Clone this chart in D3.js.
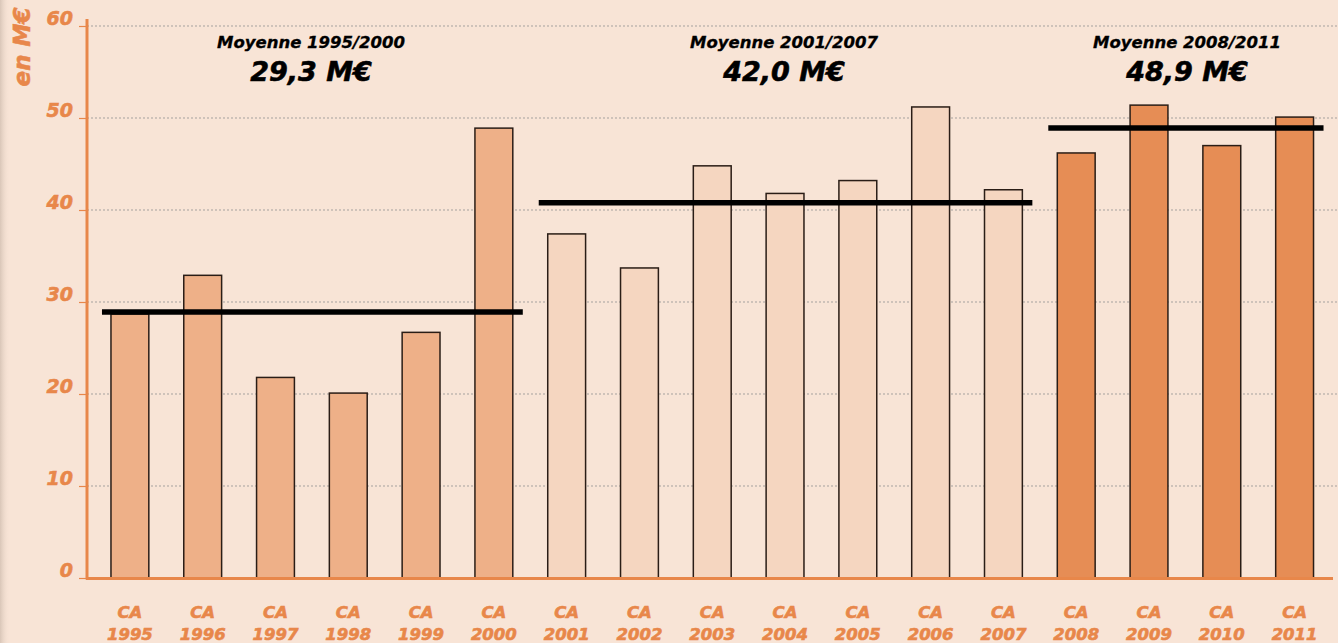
<!DOCTYPE html>
<html>
<head>
<meta charset="utf-8">
<script src="https://cdn.jsdelivr.net/npm/d3@7"></script>
<style>
  html, body { margin: 0; padding: 0; background: #f8e4d6; }
  svg { display: block; font-family: "DejaVu Sans", sans-serif; }
</style>
</head>
<body>
<div class="panel"></div>
<script>
const years = ["1995","1996","1997","1998","1999","2000","2001","2002","2003","2004","2005","2006","2007","2008","2009","2010","2011"];
const values = [28.7, 32.9, 21.8, 20.1, 26.7, 48.9, 37.4, 33.7, 44.8, 41.8, 43.2, 51.2, 42.2, 46.2, 51.4, 47.0, 50.1];
const periods = ["1995/2000", "2001/2007", "2008/2011"];
const periodStart = ["1995", "2001", "2008"];
const periodEnd = ["2000", "2007", "2011"];
const periodLabels = ["29,3 M€", "42,0 M€", "48,9 M€"];
const periodLines = [28.9, 40.8, 48.9];
const yTicks = [0, 10, 20, 30, 40, 50, 60];

const width = 1338;
const height = 643;

const svg = d3.select(".panel")
    .append("svg")
    .attr("width", width)
    .attr("height", height);

svg.append("rect")
   .attr("width", width)
   .attr("height", height)
   .attr("fill", "#f8e4d6");

// faint shadow on the left edge
const grad = svg.append("defs").append("linearGradient").attr("id", "edge");
grad.append("stop").attr("offset", "0%").attr("stop-color", "#d9c6b8");
grad.append("stop").attr("offset", "100%").attr("stop-color", "#f8e4d6").attr("stop-opacity", 0);
svg.append("rect").attr("width", 10).attr("height", height).attr("fill", "url(#edge)");

const x = d3.scaleBand()
    .domain(years)
    .range([93.5, 1331])
    .paddingInner(0.48)
    .paddingOuter(0.24);

const y = d3.scaleLinear()
    .domain([0, 60])
    .range([578, 26]);

const orange = "#e8874a";

function periodOf(i){
  if(i < 6) return 0;
  else if(i < 13) return 1;
  else return 2;
}
const fills = ["#eeb088", "#f5d6c0", "#e68d55"];

// grid
svg.append("g")
   .selectAll("line")
   .data(yTicks.filter(d => d > 0))
   .enter()
   .append("line")
   .attr("x1", 87)
   .attr("x2", width)
   .attr("y1", d => y(d))
   .attr("y2", d => y(d))
   .attr("stroke", "#a5a19e")
   .attr("stroke-width", 1)
   .attr("stroke-dasharray", "2,2");

// bars
svg.append("g")
   .selectAll("rect")
   .data(values)
   .enter()
   .append("rect")
   .attr("x", (d, i) => x(years[i]))
   .attr("y", d => y(d))
   .attr("width", x.bandwidth())
   .attr("height", d => y(0) - y(d))
   .attr("fill", (d, i) => fills[periodOf(i)])
   .attr("stroke", "#2a1d16")
   .attr("stroke-width", 1.5);

// y axis
const yAxis = d3.axisLeft(y)
    .tickValues(yTicks)
    .tickSize(8)
    .tickFormat(d => d);

const ag = svg.append("g")
   .attr("transform", "translate(87,0)")
   .call(yAxis);
ag.select(".domain").remove();
ag.selectAll(".tick line").attr("stroke", orange).attr("stroke-width", 1.2);
ag.selectAll(".tick text")
  .attr("x", -14)
  .attr("dy", "-0.1em")
  .attr("fill", orange)
  .attr("stroke", orange)
  .attr("stroke-width", 0.6)
  .attr("font-family", "DejaVu Sans")
  .attr("font-size", 19)
  .attr("font-weight", "bold")
  .attr("font-style", "italic");

svg.append("line")
   .attr("x1", 87).attr("x2", 87)
   .attr("y1", 19).attr("y2", 579.5)
   .attr("stroke", orange).attr("stroke-width", 3);

svg.append("line")
   .attr("x1", 86).attr("x2", 1333)
   .attr("y1", 578.5).attr("y2", 578.5)
   .attr("stroke", orange).attr("stroke-width", 3);

// x labels
const xl = svg.append("g")
   .selectAll("text")
   .data(years)
   .enter()
   .append("text")
   .attr("text-anchor", "middle")
   .attr("fill", orange)
   .attr("stroke", orange)
   .attr("stroke-width", 0.6)
   .attr("font-size", 16.5)
   .attr("font-weight", "bold")
   .attr("font-style", "italic");
xl.append("tspan")
  .attr("x", d => x(d) + x.bandwidth() / 2)
  .attr("y", 618)
  .text("CA");
xl.append("tspan")
  .attr("x", d => x(d) + x.bandwidth() / 2)
  .attr("y", 640)
  .text(d => d);

// average lines
svg.append("g")
   .selectAll("line")
   .data(periodLines)
   .enter()
   .append("line")
   .attr("x1", (d, i) => x(periodStart[i]) - 9)
   .attr("x2", (d, i) => x(periodEnd[i]) + x.bandwidth() + 10)
   .attr("y1", d => y(d))
   .attr("y2", d => y(d))
   .attr("stroke", "#000")
   .attr("stroke-width", 5.5);

// period titles
const titleX = [311, 784, 1187];

svg.append("g")
   .selectAll("text")
   .data(periods)
   .enter()
   .append("text")
   .attr("x", (d, i) => titleX[i])
   .attr("y", 48)
   .attr("text-anchor", "middle")
   .attr("font-size", 16.5)
   .attr("font-weight", "bold")
   .attr("font-style", "italic")
   .attr("fill", "#000")
   .attr("stroke", "#000")
   .attr("stroke-width", 0.3)
   .text(d => "Moyenne " + d);

svg.append("g")
   .selectAll("text")
   .data(periodLabels)
   .enter()
   .append("text")
   .attr("x", (d, i) => titleX[i])
   .attr("y", 81)
   .attr("text-anchor", "middle")
   .attr("font-size", 27)
   .attr("font-weight", "bold")
   .attr("font-style", "italic")
   .attr("fill", "#000")
   .attr("stroke", "#000")
   .attr("stroke-width", 0.6)
   .text(d => d);

// y axis title
svg.append("text")
   .attr("transform", "translate(30,47) rotate(-90)")
   .attr("text-anchor", "middle")
   .attr("fill", orange)
   .attr("stroke", orange)
   .attr("stroke-width", 0.6)
   .attr("font-size", 23)
   .attr("font-weight", "bold")
   .attr("font-style", "italic")
   .text("en M€");
</script>
</body>
</html>
